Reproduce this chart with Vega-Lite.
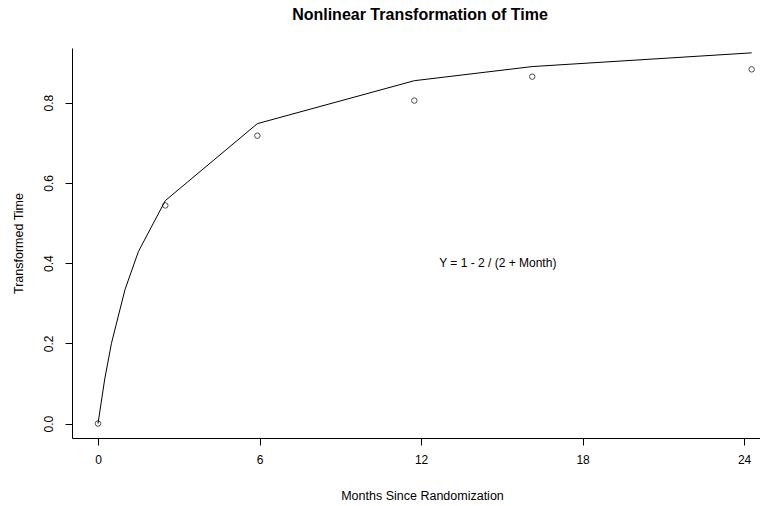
{
  "$schema": "https://vega.github.io/schema/vega-lite/v6.json",
  "autosize": "none",
  "width": 688,
  "height": 390,
  "padding": {"left": 72, "top": 48, "right": 0, "bottom": 68},
  "background": "white",
  "config": {
    "font": "Liberation Sans",
    "view": {"stroke": null},
    "axis": {"grid": false, "domainColor": "black", "tickColor": "black", "labelColor": "black", "titleColor": "black", "labelFont": "Liberation Sans", "titleFont": "Liberation Sans", "labelFontSize": 12, "titleFontSize": 12.5, "titleFontWeight": "normal", "tickSize": 7, "domainWidth": 1, "tickWidth": 1}
  },
  "title": {"text": "Nonlinear Transformation of Time", "font": "Liberation Sans", "fontSize": 16, "fontWeight": "bold", "color": "black", "anchor": "middle", "baseline": "alphabetic", "offset": 27, "dx": 4, "dy": 15},
  "datasets": {
    "curve": [
      {"month": 0, "y": 0},
      {"month": 0.25, "y": 0.1111},
      {"month": 0.5, "y": 0.2},
      {"month": 1, "y": 0.3333},
      {"month": 1.5, "y": 0.4286},
      {"month": 2.5, "y": 0.5556},
      {"month": 5.92, "y": 0.7475},
      {"month": 11.75, "y": 0.8545},
      {"month": 16.13, "y": 0.8897},
      {"month": 24.28, "y": 0.9239}
    ],
    "obs": [
      {"month": 0, "y": 0},
      {"month": 2.5, "y": 0.5436},
      {"month": 5.92, "y": 0.7175},
      {"month": 11.75, "y": 0.805},
      {"month": 16.13, "y": 0.8646},
      {"month": 24.28, "y": 0.8828}
    ],
    "note": [
      {"month": 14.85, "y": 0.4, "label": "Y = 1 - 2 / (2 + Month)"}
    ]
  },
  "layer": [
    {
      "data": {"name": "curve"},
      "mark": {"type": "line", "color": "black", "strokeWidth": 1, "clip": true},
      "encoding": {
        "x": {"field": "month", "type": "quantitative", "scale": {"domain": [-0.966, 24.59], "nice": false, "zero": false},
          "axis": {"values": [0, 6, 12, 18, 24], "title": "Months Since Randomization", "labelPadding": 9, "titleX": 350, "titleY": 61, "titleBaseline": "alphabetic", "titleAnchor": null}},
        "y": {"field": "y", "type": "quantitative", "scale": {"domain": [-0.036, 0.936], "nice": false, "zero": false},
          "axis": {"values": [0, 0.2, 0.4, 0.6, 0.8], "format": ".1f", "title": "Transformed Time", "labelAngle": 270, "labelAlign": "center", "labelBaseline": "middle", "labelPadding": 17, "titleX": -54, "titleY": 195, "titleBaseline": "middle", "titleAngle": 270}}
      }
    },
    {
      "data": {"name": "obs"},
      "mark": {"type": "point", "shape": "circle", "filled": false, "color": "black", "strokeWidth": 1, "size": 30},
      "encoding": {
        "x": {"field": "month", "type": "quantitative"},
        "y": {"field": "y", "type": "quantitative"}
      }
    },
    {
      "data": {"name": "note"},
      "mark": {"type": "text", "font": "Liberation Sans", "fontSize": 12, "color": "black", "align": "center", "baseline": "middle"},
      "encoding": {
        "x": {"field": "month", "type": "quantitative"},
        "y": {"field": "y", "type": "quantitative"},
        "text": {"field": "label"}
      }
    },
    {
      "mark": {"type": "rule", "color": "black", "strokeWidth": 1},
      "encoding": {"y": {"datum": 0.936}}
    }
  ]
}
